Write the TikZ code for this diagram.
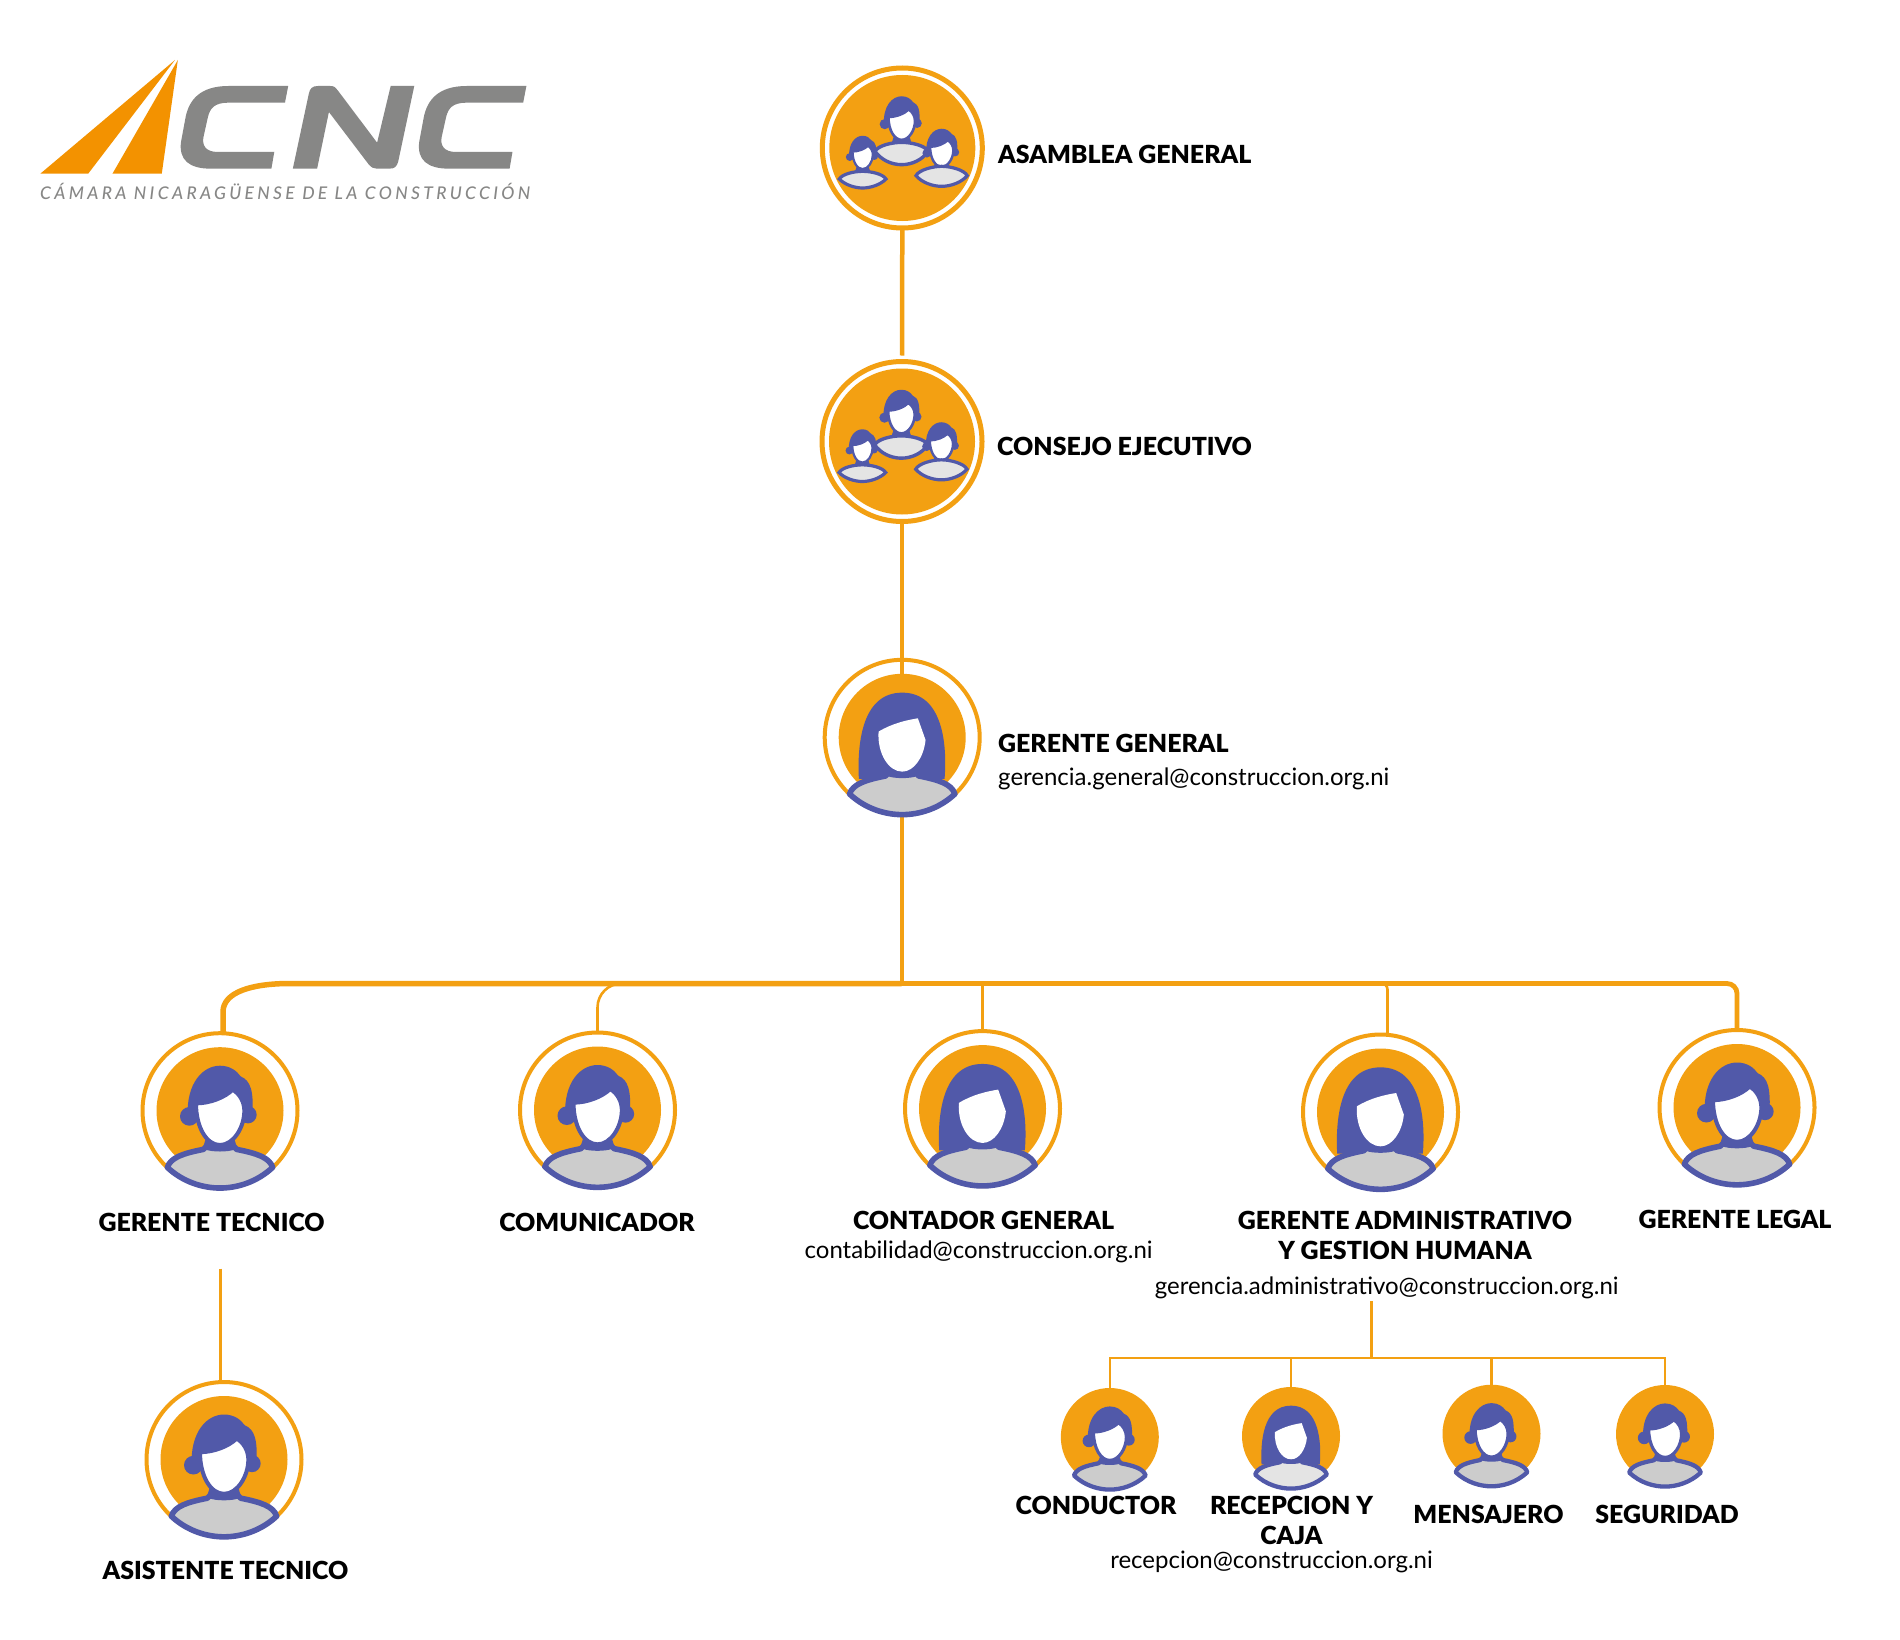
\documentclass[tikz,border=0pt]{standalone}
\usepackage{fontspec}
\setmainfont{Lato}
\newfontfamily\heavy{Lato Black}
\newfontfamily\logofont{Lato Medium}[LetterSpace=19]
\definecolor{ior}{HTML}{F3A012}
\definecolor{logoor}{HTML}{F39200}
\definecolor{logogr}{HTML}{878786}
\definecolor{iblue}{HTML}{5159A9}
\definecolor{ibody}{HTML}{CCCCCC}
\definecolor{ilight}{HTML}{E4E4E4}
\tikzset{
  ringbig/.style={circle,draw=ior,line width=5pt,minimum size=160pt,inner sep=0pt,outer sep=0pt},
  discbig/.style={circle,fill=ior,minimum size=146pt,inner sep=0pt,outer sep=0pt},
  ringmid/.style={circle,draw=ior,line width=4pt,minimum size=155pt,inner sep=0pt,outer sep=0pt},
  discmid/.style={circle,fill=ior,minimum size=127pt,inner sep=0pt,outer sep=0pt},
  discsmall/.style={circle,fill=ior,minimum size=98pt,inner sep=0pt,outer sep=0pt},
  conn/.style={draw=ior,line width=#1,line cap=butt},
  conn/.default=4.5pt,
  title/.style={font=\heavy\fontsize{24.9}{30}\selectfont,text=black,inner sep=0pt,align=center},
  mail/.style={font=\fontsize{24}{28}\selectfont,text=black,inner sep=0pt},
}
% head of a man, in units of a third of a pixel
\newcommand{\manhead}[1]{%
  \fill[iblue] (-97,20) .. controls (-102,-85) and (-50,-135) .. (0,-135)
     .. controls (30,-135) and (50,-120) .. (62,-103)
     .. controls (92,-90) and (102,-60) .. (97,20) -- cycle;
  \fill[iblue] (-92,17) circle[radius=28];
  \fill[iblue] (84,12) circle[radius=26];
  \fill[iblue] (-40,75) -- (40,75) -- (52,114) -- (-52,114) -- cycle;
  \filldraw[fill=white,draw=iblue,line width=#1] (-72,-22)
     .. controls (-30,-22) and (15,-40) .. (38,-63)
     .. controls (60,-50) and (73,-25) .. (73,0)
     .. controls (73,50) and (40,103) .. (0,103)
     .. controls (-40,103) and (-72,50) .. (-72,-22) -- cycle;
}
\newcommand{\bodyshape}[1]{%
  \filldraw[fill=#1,draw=iblue,line width=\bodyw,line join=round] (-158,170)
     .. controls (-148,140) and (-110,128) .. (-50,116) -- (-42,108)
     .. controls (-25,116) and (25,116) .. (42,108) -- (50,116)
     .. controls (110,128) and (148,140) .. (158,170)
     .. controls (110,215) and (50,232) .. (0,232)
     .. controls (-50,232) and (-110,215) .. (-158,170) -- cycle;
}
\newcommand{\maleicon}[2]{%
  \begin{scope}[shift={(#1.center)},x=#2/3*1pt,y=-#2/3*1pt]
    \pgfmathsetlengthmacro{\bodyw}{(1.5+4.1*#2)*1pt}
    \pgfmathsetlengthmacro{\facew}{(1.2+2.8*#2)*1pt}
    \manhead{\facew}
    \bodyshape{ibody}
  \end{scope}
}
\newcommand{\femaleicon}[3]{%
  \begin{scope}[shift={(#1.center)},x=#2/3*1pt,y=-#2/3*1pt]
    \pgfmathsetlengthmacro{\bodyw}{(1.5+4.1*#2)*1pt}
    \fill[iblue] (-130,125) .. controls (-135,30) and (-125,-134) .. (0,-134)
       .. controls (125,-134) and (135,30) .. (127,125) -- cycle;
    \fill[white] (-71,-17) .. controls (-30,-42) and (15,-52) .. (47,-57) -- (70,8)
       .. controls (65,60) and (35,103) .. (0,103)
       .. controls (-40,103) and (-75,50) .. (-71,-17) -- cycle;
    \bodyshape{#3}
  \end{scope}
}
\newcommand{\groupicon}[1]{%
  \begin{scope}[shift={(#1.center)},x=1/3*1pt,y=-1/3*1pt]
    \begin{scope}[shift={(-2,-81)},scale=.55]\manhead{2.6pt}\end{scope}
    \filldraw[fill=ilight,draw=iblue,line width=3.4pt] (-82,10) .. controls (-72,-8) and (-30,-17) .. (-2,-17)
       .. controls (26,-17) and (68,-8) .. (78,10)
       .. controls (60,35) and (30,50) .. (-2,50)
       .. controls (-34,50) and (-64,35) .. (-82,10) -- cycle;
    \begin{scope}[shift={(-119,20)},scale=.42]\manhead{2.2pt}\end{scope}
    \filldraw[fill=ilight,draw=iblue,line width=3.2pt] (-189,93) .. controls (-180,78) and (-145,70) .. (-119,70)
       .. controls (-93,70) and (-58,78) .. (-49,93)
       .. controls (-65,110) and (-95,120) .. (-119,120)
       .. controls (-143,120) and (-173,110) .. (-189,93) -- cycle;
    \begin{scope}[shift={(118,7)},scale=.48]\manhead{2.4pt}\end{scope}
    \filldraw[fill=ilight,draw=iblue,line width=3.2pt] (41,83) .. controls (50,66) and (90,55) .. (118,55)
       .. controls (146,55) and (186,66) .. (195,83)
       .. controls (178,103) and (146,115) .. (118,115)
       .. controls (90,115) and (58,103) .. (41,83) -- cycle;
  \end{scope}
}
\begin{document}
\begin{tikzpicture}[x=1pt,y=-1pt]
\useasboundingbox (0,0) rectangle (1900,1640);
\fill[white] (0,0) rectangle (1900,1640);

% logo
\begin{scope}[shift={(0,30)},x=1/2.8*1pt,y=-1pt]
  \begin{scope}[y=-1/3*1pt]
  \fill[logoor] (113,431) -- (490,90) -- (247,431) -- cycle;
  \fill[logoor] (315,431) -- (498,90) -- (453,431) -- cycle;
  \fill[logogr] (807,168) -- (640,168) .. controls (560,168) and (530,210) .. (520,260) -- (507,335)
     .. controls (500,390) and (530,416) .. (590,416) -- (760,416) -- (768,366) -- (610,366)
     .. controls (575,366) and (565,345) .. (570,320) -- (582,262)
     .. controls (588,235) and (600,218) .. (640,218) -- (798,218) -- cycle;
  \fill[logogr] (820,416) -- (865,190) .. controls (868,175) and (875,168) .. (890,168) -- (925,168)
     .. controls (935,168) and (940,172) .. (945,180) -- (1056,338) -- (1094,168) -- (1160,168)
     -- (1115,395) .. controls (1111,410) and (1105,416) .. (1090,416) -- (1055,416)
     .. controls (1045,416) and (1040,412) .. (1033,404) -- (921,246) -- (888,416) -- cycle;
  \begin{scope}[shift={(667,0)}]
  \fill[logogr] (807,168) -- (640,168) .. controls (560,168) and (530,210) .. (520,260) -- (507,335)
     .. controls (500,390) and (530,416) .. (590,416) -- (760,416) -- (768,366) -- (610,366)
     .. controls (575,366) and (565,345) .. (570,320) -- (582,262)
     .. controls (588,235) and (600,218) .. (640,218) -- (798,218) -- cycle;
  \end{scope}
  \end{scope}
\end{scope}
\node[anchor=west,inner sep=0pt,text=logogr,font=\logofont\itshape\fontsize{17.5}{20}\selectfont] (logotext) at (40,191) {CÁMARA NICARAGÜENSE DE LA CONSTRUCCIÓN};

% outer rings
\node[ringbig] (asamblea) at (902.3,148) {};
\node[ringbig] (consejo) at (902,441.5) {};
\node[ringmid] (gerente) at (902.2,737.3) {};
\node[ringmid] (tecnico) at (220,1110.7) {};
\node[ringmid] (comunicador) at (597.5,1110) {};
\node[ringmid] (contador) at (982.5,1108.6) {};
\node[ringmid] (admin) at (1380.5,1112) {};
\node[ringmid] (legal) at (1737,1107.5) {};
\node[ringmid] (asistente) at (224,1459.5) {};

% connectors
\coordinate (busmid) at (901.7,983.5);
\coordinate (asisttop) at (220.7,1268.5);
\coordinate (adminstem) at (1371.5,1301);
\coordinate (busb) at (1371.5,1357.7);
\coordinate (tecbend) at (290,983.5);
\coordinate (tecrise) at (223,1012);
\draw[conn] (asamblea.south) -- ([yshift=6pt]consejo.north);
\draw[conn] (consejo.south) -- (consejo.south |- gerente.center);
\draw[conn] (gerente.center) -- (gerente.center |- busmid);
\draw[conn=5.5pt] (tecnico.north -| tecrise) -- (tecrise) .. controls +(0,-20) and +(-38,0) .. (tecbend) -- (busmid);
\draw[conn=2.6pt,rounded corners=24pt] (comunicador.north) |- (busmid);
\draw[conn=5.5pt] (624,983.5) -- (1385,983.5);
\draw[conn=2.2pt] (contador.north) -- (contador.north |- busmid);
\draw[conn=2.6pt,rounded corners=6pt] ([xshift=7pt]admin.north) |- (busmid);
\draw[conn=4.8pt,rounded corners=10pt] (legal.north) |- (busmid);
\draw[conn=2.6pt] (asisttop) -- (asisttop |- asistente.north);
\draw[conn=2.4pt] (adminstem) -- (busb);

% discs
\node[discbig] (asamblead) at (asamblea) {};
\node[discbig] (consejod) at (consejo) {};
\node[discmid] (gerented) at (gerente) {};
\node[discmid] (tecnicod) at (tecnico) {};
\node[discmid] (comunicadord) at (comunicador) {};
\node[discmid] (contadord) at (contador) {};
\node[discmid] (admind) at (admin) {};
\node[discmid] (legald) at (legal) {};
\node[discmid] (asistented) at (asistente) {};
\node[discsmall] (conductor) at (1109.8,1437) {};
\node[discsmall] (recepcion) at (1291,1436) {};
\node[discsmall] (mensajero) at (1491.5,1433.7) {};
\node[discsmall] (seguridad) at (1665,1434) {};
\draw[conn=2.4pt] (conductor.north) |- (busb);
\draw[conn=2.4pt] (recepcion.north) |- (busb);
\draw[conn=2.4pt] (mensajero.north) |- (busb);
\draw[conn=2.4pt] (seguridad.north) |- (busb);

% icons
\groupicon{asamblead}
\groupicon{consejod}
\femaleicon{gerented}{1}{ibody}
\maleicon{tecnicod}{1}
\maleicon{comunicadord}{1}
\femaleicon{contadord}{1}{ibody}
\femaleicon{admind}{1}{ibody}
\maleicon{legald}{1}
\maleicon{asistented}{1}
\maleicon{conductor}{.68}
\femaleicon{recepcion}{.68}{ilight}
\maleicon{mensajero}{.68}
\maleicon{seguridad}{.68}

% labels
\node[title,anchor=west] (lasamblea) at (998,154) {ASAMBLEA GENERAL};
\node[title,anchor=west] (lconsejo) at (997,446) {CONSEJO EJECUTIVO};
\node[title,anchor=west] (lgerente) at (998,743) {GERENTE GENERAL};
\node[mail,anchor=west] (mgerente) at (998,778.5) {gerencia.general@construccion.org.ni};
\node[title] (ltecnico) at (211.6,1222) {GERENTE TECNICO};
\node[title] (lcomunicador) at (597,1222) {COMUNICADOR};
\node[title] (lcontador) at (983.5,1220) {CONTADOR GENERAL};
\node[mail] (mcontador) at (978.6,1251.5) {contabilidad@construccion.org.ni};
\node[title] (ladmin) at (1405,1235) {GERENTE ADMINISTRATIVO\\Y GESTION HUMANA};
\node[mail] (madmin) at (1386.7,1288) {gerencia.administrativo@construccion.org.ni};
\node[title] (llegal) at (1735,1219.5) {GERENTE LEGAL};
\node[title] (lasistente) at (225.5,1570) {ASISTENTE TECNICO};
\node[title] (lconductor) at (1096,1505.5) {CONDUCTOR};
\node[title] (lrecepcion) at (1291.5,1520) {RECEPCION Y\\CAJA};
\node[title] (lmensajero) at (1488.5,1514) {MENSAJERO};
\node[title] (lseguridad) at (1667,1514) {SEGURIDAD};
\node[mail] (mrecepcion) at (1271.5,1562) {recepcion@construccion.org.ni};
\end{tikzpicture}
\end{document}
